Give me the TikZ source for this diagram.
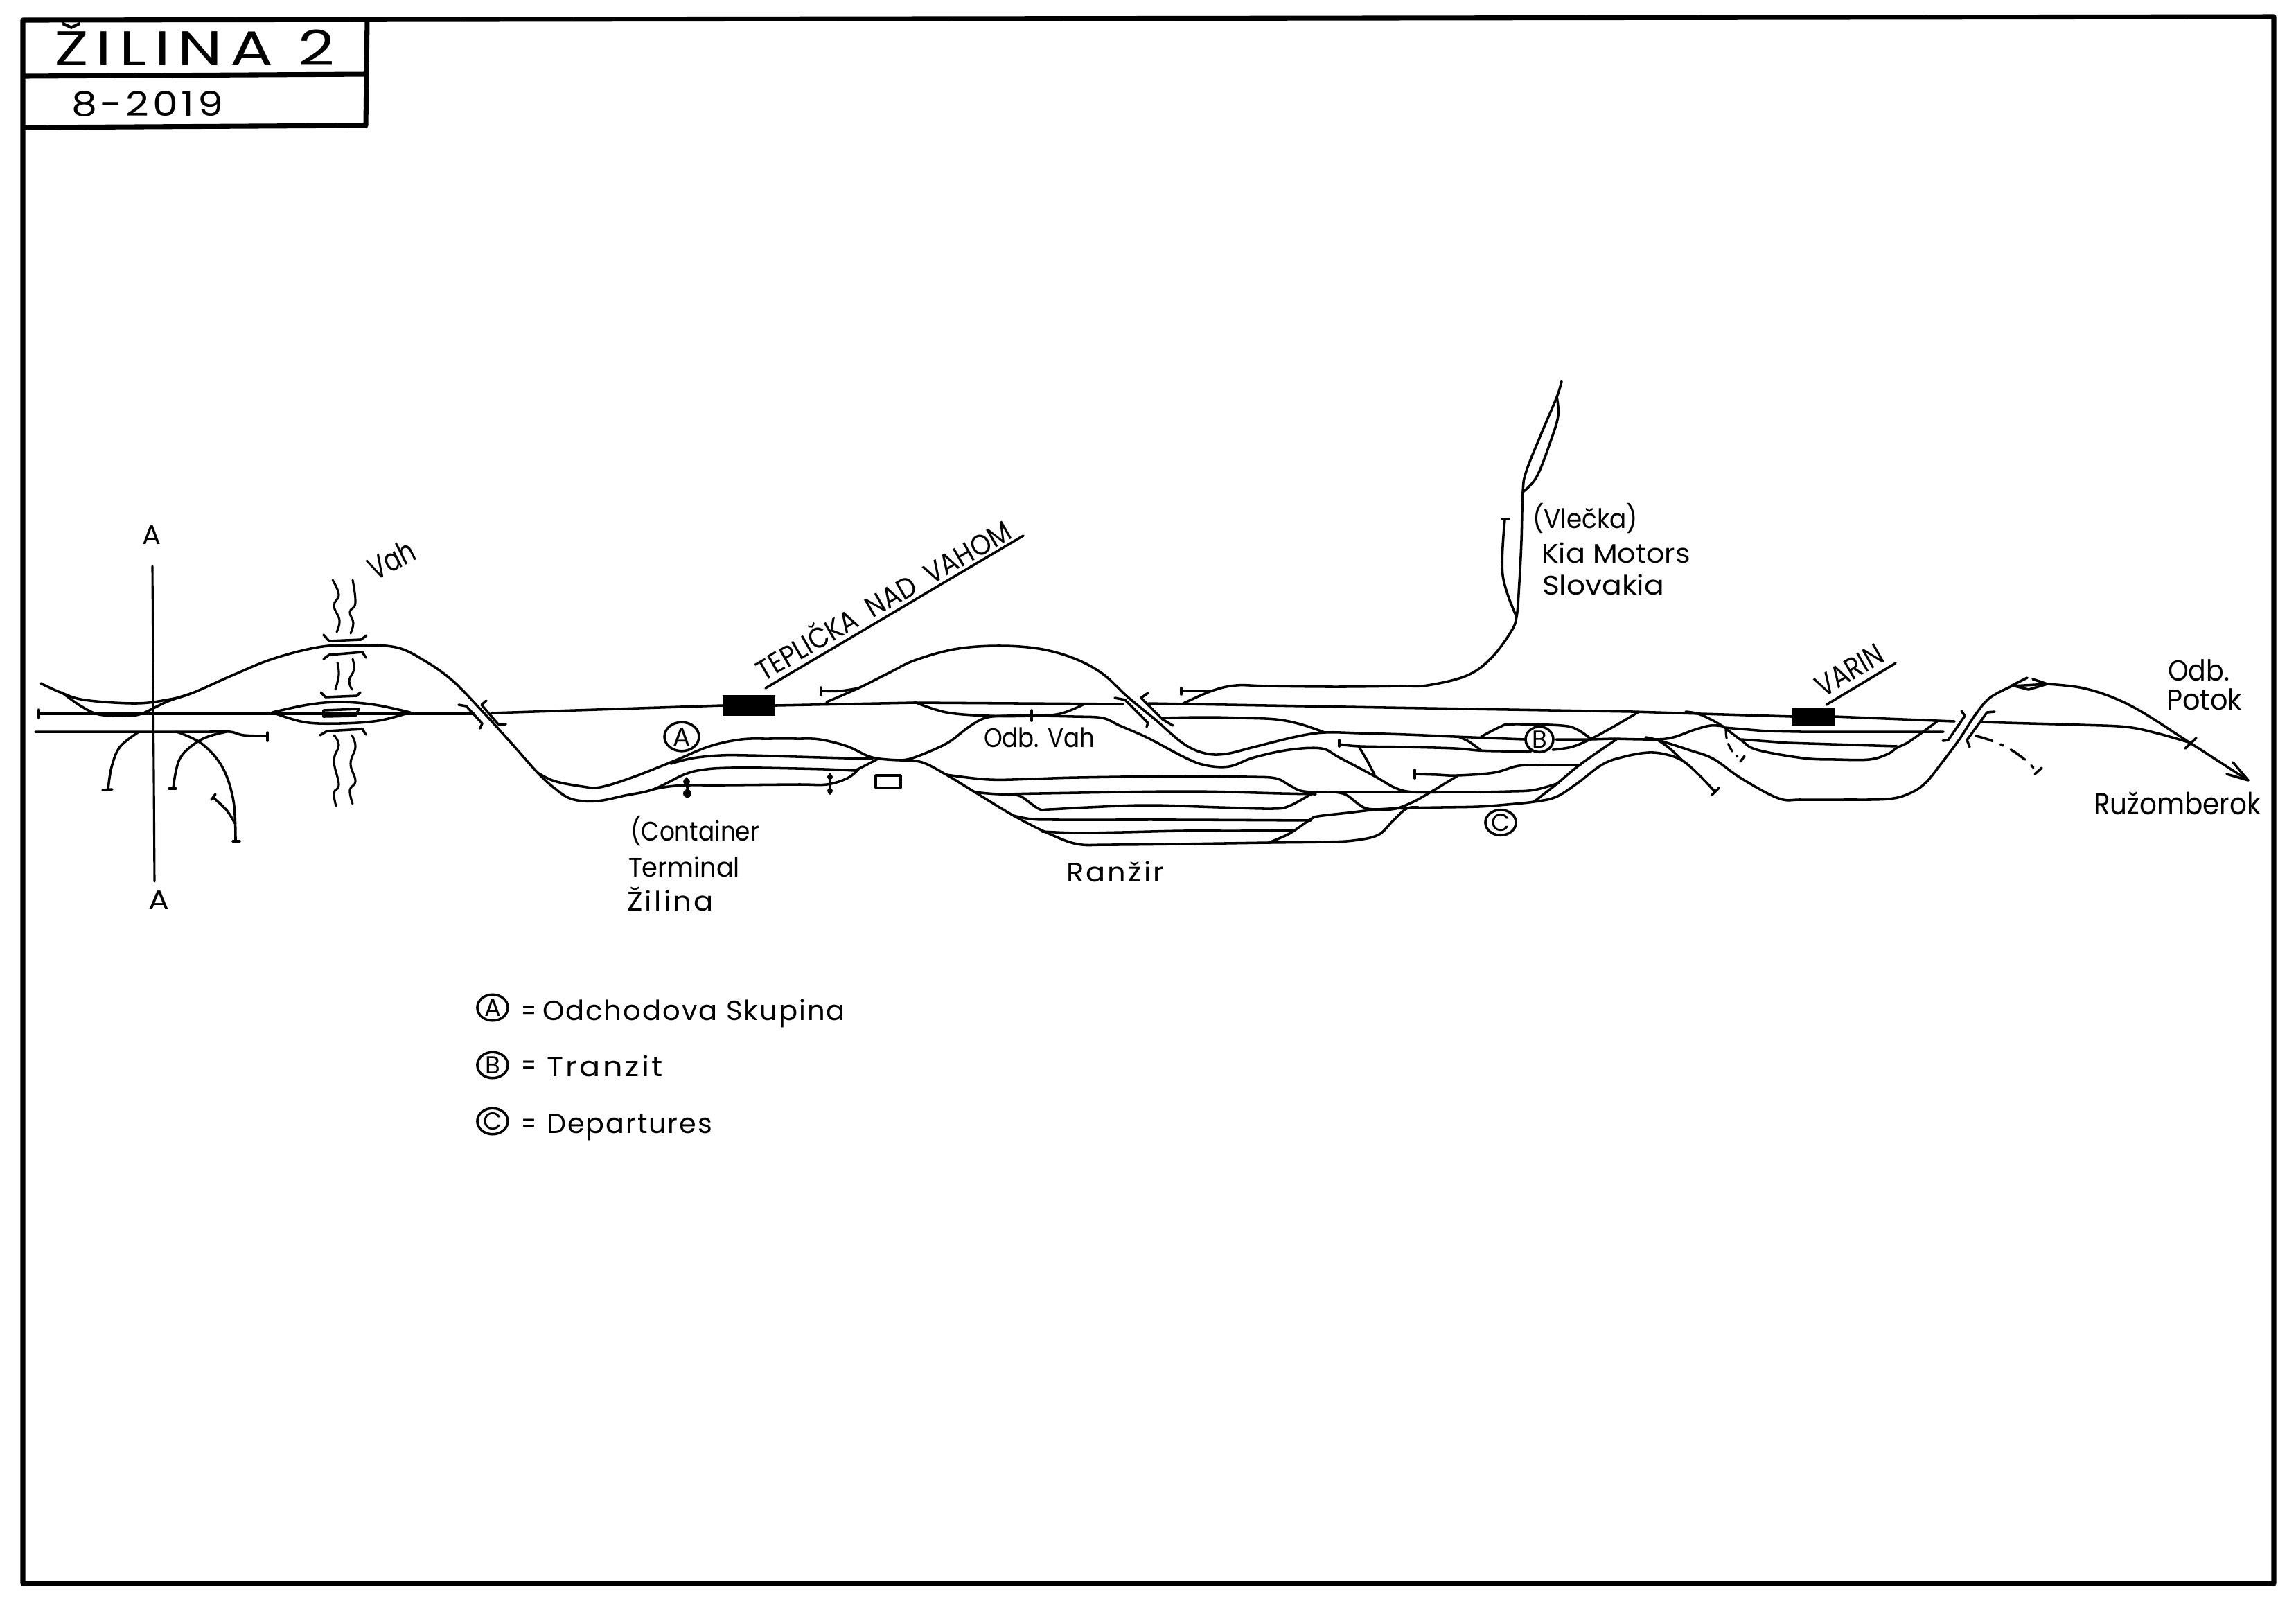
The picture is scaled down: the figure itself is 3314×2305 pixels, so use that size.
\documentclass[tikz,border=0pt]{standalone}
\usepackage{fontspec}
\usepackage{graphicx}
\setmainfont{Poppins}
\usetikzlibrary{shapes.geometric}
\newdimen\pxu \pxu=.24pt
\tikzset{
 trk/.style={line width=.85pt,line cap=round,line join=round},
 thn/.style={line width=.75pt,line cap=round,line join=round},
 frm/.style={line width=1.7pt,line join=round},
 handtxt/.style={inner sep=0pt,outer sep=0pt,anchor=base west,text=black},
 ring/.style={draw,ellipse,line width=.85pt,inner sep=0pt,text=black},
 stn/.style={draw,fill=black,inner sep=0pt},
}
% smooth track through points
\newcommand\trk[1]{\draw[trk] plot[smooth,tension=.6] coordinates {#1};}
\newcommand\riv[1]{\draw[thn] plot[smooth,tension=.7] coordinates {#1};}
% [rotation]{name}{x,y}{width px}{size pt}{text}
\newcommand\hand[6][0]{\node[handtxt,rotate=#1] (#2) at (#3) {\resizebox{#4\pxu}{\height}{\fontsize{#5pt}{#5pt}\selectfont #6}};}
\begin{document}
\begin{tikzpicture}[x=.24pt,y=-.24pt]
\useasboundingbox (0,0) rectangle (3314,2305);
% frame
\draw[frm] (33,29) -- (3282,24) -- (3282,2285) -- (33,2285) -- cycle;
\draw[frm] (33,110) -- (528,107);
\draw[frm] (33,184) -- (528,181) -- (530,28);
\hand{ttl}{78,94}{405}{16.8}{\addfontfeature{LetterSpace=12}ŽILINA 2}
\hand{dat}{103,167}{219}{11.7}{\addfontfeature{LetterSpace=8}8-2019}
% section line A-A
\draw[thn] (220,817) -- (223,1272);
\hand{aa1}{205,785}{27}{9.3}{A}
\hand{aa2}{214,1312}{30}{9.3}{A}
% left group
\trk{(59,986)(87,999)(122,1010)(194,1015)(240,1010)(275,1001)(332,976)(393,951)(459,934)(510,931)(571,934)(612,953)(653,982)(694,1024)(735,1069)(776,1115)(800,1137)(825,1153)(861,1156)(902,1148)(943,1139)(989,1117)(1020,1110)(1055,1108)(1100,1108)(1190,1110)(1234,1112)}
\trk{(89,999)(117,1019)(143,1031)(179,1033)(204,1030)(240,1013)(275,1001)}
\draw[trk] (56,1030) -- (684,1030);
\draw[trk] (56,1024) -- (56,1036);
\trk{(393,1028)(444,1017)(490,1013)(541,1017)(592,1028)}
\trk{(393,1028)(439,1042)(490,1044)(546,1040)(592,1028)}
\draw[trk] (467,1025) -- (518,1023) -- (513,1033) -- (467,1034) -- cycle;
\trk{(51,1056)(200,1056)(300,1056)(332,1056)(352,1061)(385,1062)}
\draw[trk] (386,1057) -- (386,1069);
\trk{(199,1057)(173,1078)(161,1107)(156,1139)}
\draw[trk] (148,1140) -- (162,1139);
\trk{(327,1056)(291,1067)(260,1094)(250,1138)}
\draw[trk] (244,1138) -- (254,1138);
\trk{(255,1056)(291,1073)(321,1107)(337,1156)(340,1214)}
\draw[trk] (336,1214) -- (346,1214);
\trk{(339,1188)(327,1169)(309,1152)}
\draw[trk] (305,1154) -- (311,1146);
% river
\riv{(480,837)(489,858)(482,874)(490,895)(486,912)}
\riv{(509,837)(513,870)(505,883)(510,899)(506,914)}
\riv{(487,956)(489,974)(484,995)}
\riv{(509,951)(511,966)(504,982)(508,995)}
\riv{(482,1061)(489,1075)(482,1098)(489,1132)(482,1144)(485,1163)}
\riv{(508,1061)(513,1078)(506,1102)(513,1127)(505,1140)(509,1160)}
\draw[trk] (467,916) -- (475,925) -- (521,923) -- (529,917);
\draw[trk] (467,951) -- (475,945) -- (523,941) -- (528,949);
\draw[trk] (463,999) -- (470,1006) -- (515,1004) -- (520,999);
\draw[trk] (462,1061) -- (472,1055) -- (523,1052) -- (528,1060);
\hand[27]{vah}{541,838}{70}{11}{Vah}
% flyover 1
\draw[trk] (662,1017) -- (673,1019) -- (696,1044) -- (693,1051);
\draw[trk] (702,1011) -- (695,1017) -- (719,1045) -- (730,1045);
% main line, west
\node[stn,minimum width=18pt,minimum height=6.7pt] (stnA) at (1081,1018) {};
\node[stn,minimum width=14.4pt,minimum height=6pt] (stnB) at (2617,1034) {};
\coordinate (mw) at (709,1029);
\coordinate (mj) at (1621,1016);
\coordinate (me) at (1657,1015);
\draw[trk] (mw) -- (stnA.west);
\draw[trk] (stnA.east) -- (1320,1014) -- (mj);
\draw[trk] (me) -- (2000,1021) -- (2357,1027) -- (stnB.west);
\draw[trk] (stnB.east) -- (2821,1041);
\trk{(2861,1042)(2930,1044)(3002,1046)(3069,1049)(3113,1058)(3162,1072)}
% Teplicka labels
\coordinate (tu1) at (1105,993);
\coordinate (tu2) at (1477,773);
\draw[trk] (tu1) -- (tu2);
\hand[30]{tep}{1102,984}{417}{10}{TEPLIČKA\ \ NAD\ \ VAHOM}
% A group
\trk{(968,1102)(1000,1094)(1040,1090)(1080,1090)(1150,1092)(1220,1094)(1259,1095)}
\trk{(1234,1112)(1252,1103)(1267,1095)}
\trk{(943,1139)(965,1135)(994,1133)(1040,1133)(1150,1132)(1193,1132)(1223,1123)(1239,1110)}
\trk{(776,1115)(800,1127)(841,1135)(866,1136)(912,1122)(973,1098)(1024,1077)(1070,1067)(1110,1066)(1150,1066)(1183,1067)(1223,1077)(1259,1093)(1300,1097)}
\draw[trk] (1264,1119) rectangle (1300,1137);
\draw[trk] (991,1123) -- (993,1150);
\fill (991,1128) circle (5);
\fill (992,1145) circle (6);
\draw[trk] (1198,1117) -- (1198,1145);
\fill (1198,1121) circle (4);
\fill (1198,1141) circle (4);
\node[ring,minimum width=12pt,minimum height=10pt] (ca) at (984,1063) {\fontsize{9}{9}\selectfont A};
% loop over the main
\draw[trk] (1185,992) -- (1185,1003);
\trk{(1185,997)(1213,997)(1239,993)}
\trk{(1193,1013)(1239,993)(1285,970)(1320,953)(1377,937)(1438,932)(1499,936)(1550,950)(1591,972)(1627,1005)(1667,1038)(1708,1073)(1739,1087)(1769,1088)(1810,1078)(1871,1063)(1912,1057)(1963,1058)(2030,1060)(2100,1063)(2150,1065)(2201,1067)}
\trk{(1300,1097)(1320,1093)(1366,1073)(1397,1050)(1422,1036)(1453,1033)(1500,1033)(1550,1034)(1591,1036)(1616,1047)(1657,1065)(1708,1092)(1739,1104)(1774,1106)(1810,1093)(1861,1082)(1907,1080)(1933,1093)(1984,1120)(2014,1137)(2040,1143)(2090,1143)(2134,1143)(2180,1142)(2214,1140)(2250,1130)}
\trk{(1320,1013)(1366,1028)(1428,1033)(1489,1033)(1530,1030)(1565,1016)}
\draw[trk] (1489,1025) -- (1489,1040);
\hand{odb}{1420,1078}{160}{9.3}{Odb. Vah}
% flyover 2
\draw[trk] (1609,1007) -- (1624,1010) -- (1657,1043) -- (1655,1049);
\draw[trk] (1657,1000) -- (1647,1007) -- (1678,1038) -- (1693,1047);
\trk{(1678,1036)(1739,1035)(1790,1036)(1841,1038)(1877,1045)(1912,1057)}
% Kia branch
\draw[trk] (1705,993) -- (1705,1002);
\draw[trk] (1705,997) -- (1749,997);
\trk{(1708,1015)(1749,997)(1784,989)(1830,990)(1928,991)(2020,990)(2060,989)(2117,975)(2152,950)(2180,913)(2189,890)(2193,840)(2196,780)(2198,710)(2203,680)(2225,625)(2247,573)(2254,550)}
\trk{(2198,710)(2218,688)(2238,637)(2249,600)(2247,573)}
\trk{(2189,890)(2169,830)(2172,750)}
\draw[trk] (2168,749) -- (2178,749);
\hand{vl}{2212,762}{152}{9.3}{(Vlečka)}
\hand{km}{2225,812}{215}{9.3}{Kia Motors}
\hand{sl}{2226,858}{176}{9.3}{Slovakia}
% Ranzir yard
\trk{(1300,1097)(1331,1100)(1366,1118)(1407,1143)(1463,1177)(1514,1203)(1555,1218)(1600,1219)(1700,1218)(1831,1216)(1910,1215)(1953,1213)(1989,1205)(2010,1185)(2030,1167)(2047,1165)}
\trk{(1366,1118)(1428,1125)(1490,1124)(1555,1122)(1708,1120)(1800,1121)(1841,1123)(1861,1133)(1882,1142)(1930,1143)(2000,1143)(2040,1143)}
\trk{(1407,1143)(1443,1146)(1500,1145)(1708,1142)(1850,1145)(1899,1146)}
\trk{(1456,1147)(1473,1149)(1499,1167)(1514,1168)(1570,1165)(1657,1162)(1760,1165)(1836,1167)(1861,1163)(1892,1146)}
\trk{(1463,1177)(1489,1182)(1530,1183)(1700,1183)(1892,1184)}
\trk{(1504,1200)(1555,1202)(1620,1201)(1708,1199)(1790,1199)(1866,1198)}
\trk{(1831,1216)(1861,1203)(1892,1182)(1902,1178)(1945,1173)(1989,1168)(2030,1166)(2080,1165)(2134,1164)(2175,1161)(2214,1157)(2246,1150)(2277,1130)(2313,1103)(2344,1092)(2379,1086)(2406,1089)(2429,1098)(2451,1117)(2475,1142)}
\draw[trk] (2471,1147) -- (2481,1137);
\trk{(1925,1143)(1943,1147)(1968,1165)(1989,1168)(2014,1167)(2040,1157)(2065,1143)(2103,1120)}
\draw[trk] (1933,1068) -- (1933,1077);
\trk{(1933,1074)(1963,1077)(2030,1078)(2100,1080)(2134,1083)(2170,1084)(2210,1084)}
\trk{(1961,1077)(1973,1097)(1984,1118)}
\hand{rz}{1539,1272}{141}{9.3}{\addfontfeature{LetterSpace=8}Ranžir}
% B and C group
\draw[trk] (2042,1111) -- (2042,1123);
\trk{(2043,1117)(2075,1118)(2103,1119)(2156,1115)(2192,1105)(2230,1104)(2281,1104)}
\trk{(2214,1157)(2246,1132)(2281,1103)(2333,1067)}
\trk{(2241,1082)(2268,1078)(2295,1067)(2330,1048)(2364,1028)}
\trk{(2107,1064)(2120,1070)(2138,1083)}
\trk{(2138,1063)(2165,1049)(2183,1045)(2254,1047)(2277,1053)(2297,1067)}
\draw[trk] (2246,1067) -- (2295,1067) -- (2330,1066);
\trk{(2330,1066)(2388,1067)(2415,1064)(2446,1053)(2469,1047)(2487,1048)}
\node[ring,fill=white,minimum width=9.6pt,minimum height=8.8pt] (cb) at (2222,1067) {\fontsize{8.5}{8.5}\selectfont B};
\node[ring,minimum width=10.6pt,minimum height=8.8pt] (cc) at (2166,1187) {\fontsize{8.5}{8.5}\selectfont C};
\trk{(2375,1064)(2393,1068)(2437,1082)(2473,1095)(2513,1123)(2567,1152)(2600,1154)(2660,1154)(2725,1153)(2756,1145)(2779,1130)(2801,1103)(2828,1067)(2850,1033)(2872,1007)(2904,990)}
\trk{(2393,1068)(2410,1080)(2429,1098)}
\trk{(2433,1027)(2451,1030)(2473,1040)(2489,1050)(2513,1068)(2536,1082)(2603,1094)(2650,1096)(2698,1096)(2725,1088)(2738,1079)(2756,1070)(2796,1041)}
\draw[trk] (2489,1050) -- (2549,1055) -- (2600,1056) -- (2805,1056);
\draw[trk] (2513,1067) -- (2580,1072) -- (2738,1077);
\draw[thn,dash pattern=on 3pt off 2pt] (2491,1053) .. controls (2491,1070) and (2497,1083) .. (2508,1092);
\draw[trk] (2512,1099) -- (2518,1091);
\draw[trk] (2636,1017) -- (2736,957);
\hand[30]{var}{2631,1007}{106}{10.5}{VARIN}
% flyover 3
\draw[trk] (2831,1026) -- (2836,1033) -- (2812,1068) -- (2804,1069);
\draw[trk] (2879,1027) -- (2868,1028) -- (2839,1068) -- (2843,1078);
\draw[trk,dash pattern=on 6pt off 3pt on 1pt off 3pt] (2852,1062) .. controls (2885,1070) and (2915,1085) .. (2939,1112);
\draw[trk] (2937,1117) -- (2947,1108);
% east end
\draw[trk] (2926,978) -- (2904,989) -- (2928,995);
\draw[trk] (2934,980) -- (2955,987) -- (2928,995);
\draw[trk] (2904,990) -- (2955,987);
\trk{(2955,987)(3002,992)(3046,1005)(3091,1027)(3158,1070)(3245,1126)}
\draw[trk] (3223,1100) -- (3245,1126) -- (3214,1117);
\draw[trk] (3154,1080) -- (3170,1065);
\hand{ob}{3129,982}{89}{10}{Odb.}
\hand{pt}{3127,1024}{109}{10}{Potok}
\hand{rk}{3022,1175}{241}{10.5}{Ružomberok}
% Terminal labels
\hand{ct}{910,1213}{186}{9.3}{(Container}
\hand{tm}{907,1265}{161}{9.3}{Terminal}
\hand{zl}{905,1314}{125}{9.3}{\addfontfeature{LetterSpace=8}Žilina}
% legend
\node[ring,minimum width=10.6pt,minimum height=9pt] (la) at (711,1454) {\fontsize{8.5}{8.5}\selectfont A};
\node[ring,minimum width=10.6pt,minimum height=9pt] (lb) at (711,1537) {\fontsize{8.5}{8.5}\selectfont B};
\node[ring,minimum width=10.6pt,minimum height=9pt] (lc) at (711,1618) {\fontsize{8.5}{8.5}\selectfont C};
\hand{e1}{752,1472}{22}{9.6}{=}
\hand{e2}{752,1551}{22}{9.6}{=}
\hand{e3}{752,1635}{22}{9.6}{=}
\hand{l1}{783,1472}{437}{9.6}{\addfontfeature{LetterSpace=5}Odchodova Skupina}
\hand{l2}{789,1553}{168}{9.6}{\addfontfeature{LetterSpace=8}Tranzit}
\hand{l3}{789,1635}{239}{9.6}{\addfontfeature{LetterSpace=5}Departures}
\end{tikzpicture}
\end{document}
